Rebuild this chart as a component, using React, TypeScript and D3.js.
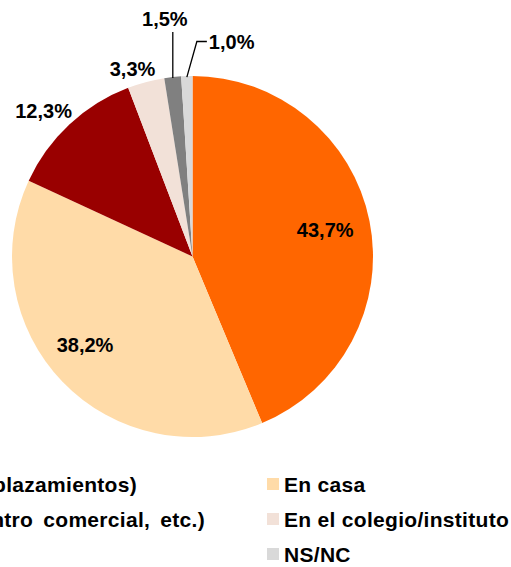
import React, { useEffect, useRef } from 'react';
import * as d3 from 'd3';

const categories = [
  'En la calle (en desplazamientos)',
  'En casa',
  'En otro lugar (cibercafé, centro comercial, etc.)',
  'En el colegio/instituto',
  'Otros',
  'NS/NC',
];
const values = [43.7, 38.2, 12.3, 3.3, 1.5, 1.0];
const colors = ['#FF6600', '#FFDBA8', '#990000', '#F2E1D8', '#808080', '#D9D9D9'];
const labels = ['43,7%', '38,2%', '12,3%', '3,3%', '1,5%', '1,0%'];

const W = 511;
const H = 567;

const App = () => {
  const svgRef = useRef<SVGSVGElement>(null);

  useEffect(() => {
    const svg = d3.select(svgRef.current);
    svg.selectAll('*').remove();

    const cx = 192.5;
    const cy = 256.5;
    const R = 180.5;
    const font = '"Liberation Sans", Arial, sans-serif';

    const pie = d3.pie<number>().sort(null).value(d => d);
    const arcs = pie(values);
    const arc = d3.arc<d3.PieArcDatum<number>>().innerRadius(0).outerRadius(R);

    const g = svg.append('g').attr('transform', `translate(${cx},${cy})`);

    g.selectAll('path.slice')
      .data(arcs)
      .enter()
      .append('path')
      .attr('class', 'slice')
      .attr('d', arc)
      .attr('fill', (d, i) => colors[i]);

    const mid = (d: d3.PieArcDatum<number>) => (d.startAngle + d.endAngle) / 2;
    const polar = (a: number, r: number): [number, number] => [r * Math.sin(a), -r * Math.cos(a)];

    // label radius factors (inside / outside) and small angle nudges
    const labelR = [0.75, 0.77, 1.155, 1.09];
    const labelShift = [0, 0.08, -0.045, -0.049];

    arcs.slice(0, 4).forEach((d, i) => {
      const [x, y] = polar(mid(d) + labelShift[i], R * labelR[i]);
      g.append('text')
        .attr('x', x)
        .attr('y', y)
        .attr('dy', '0.35em')
        .attr('text-anchor', 'middle')
        .attr('font-family', font)
        .attr('font-weight', 'bold')
        .attr('font-size', 20)
        .attr('fill', '#000')
        .text(labels[i]);
    });

    // 1,5% leader: straight up from the edge
    const d5 = arcs[4];
    const [x5, y5] = polar(mid(d5), R - 1);
    const top5 = -R - 44;
    g.append('path')
      .attr('d', `M${x5},${y5}L${x5},${top5}`)
      .attr('stroke', '#000')
      .attr('stroke-width', 1.3)
      .attr('fill', 'none');
    g.append('text')
      .attr('x', x5 - 8)
      .attr('y', top5 - 6)
      .attr('text-anchor', 'middle')
      .attr('font-family', font)
      .attr('font-weight', 'bold')
      .attr('font-size', 20)
      .text(labels[4]);

    // 1,0% leader: up and right
    const d6 = arcs[5];
    const [x6, y6] = polar(mid(d6), R - 1);
    const ky = -R - 34.5;
    const kx = x6 + 10;
    g.append('path')
      .attr('d', `M${x6},${y6}L${kx},${ky}L${kx + 10},${ky}`)
      .attr('stroke', '#000')
      .attr('stroke-width', 1.3)
      .attr('fill', 'none');
    g.append('text')
      .attr('x', kx + 12)
      .attr('y', ky)
      .attr('dy', '0.35em')
      .attr('text-anchor', 'start')
      .attr('font-family', font)
      .attr('font-weight', 'bold')
      .attr('font-size', 20)
      .text(labels[5]);

    // legend, two columns, row-wise (left column cut off by the frame)
    const rowY = [484.5, 519.5, 554.5];
    const leftEnds = [137, 205, -10];
    categories.forEach((c, i) => {
      const row = Math.floor(i / 2);
      const col = i % 2;
      const y = rowY[row];
      if (col === 1) {
        svg.append('rect')
          .attr('x', 267)
          .attr('y', y - 6.5)
          .attr('width', 12)
          .attr('height', 12)
          .attr('fill', colors[i]);
        svg.append('text')
          .attr('x', 284)
          .attr('y', y)
          .attr('dy', '0.35em')
          .attr('font-family', font)
          .attr('font-weight', 'bold')
          .attr('font-size', 21)
          .attr('letter-spacing', 0.3)
          .text(c);
      } else {
        const t = svg.append('text')
          .attr('x', leftEnds[row])
          .attr('y', y)
          .attr('dy', '0.35em')
          .attr('text-anchor', 'end')
          .attr('font-family', font)
          .attr('font-weight', 'bold')
          .attr('font-size', 21)
          .attr('letter-spacing', 0.3)
          .attr('word-spacing', row === 1 ? 4 : 0)
          .text(c);
        const bb = (t.node() as SVGTextElement).getBBox();
        svg.append('rect')
          .attr('x', bb.x - 17)
          .attr('y', y - 6.5)
          .attr('width', 12)
          .attr('height', 12)
          .attr('fill', colors[i]);
      }
    });
  }, []);

  return (
    <svg
      ref={svgRef}
      width={W}
      height={H}
      style={{ position: 'absolute', left: 0, top: 0, background: '#fff' }}
    />
  );
};

export default App;
